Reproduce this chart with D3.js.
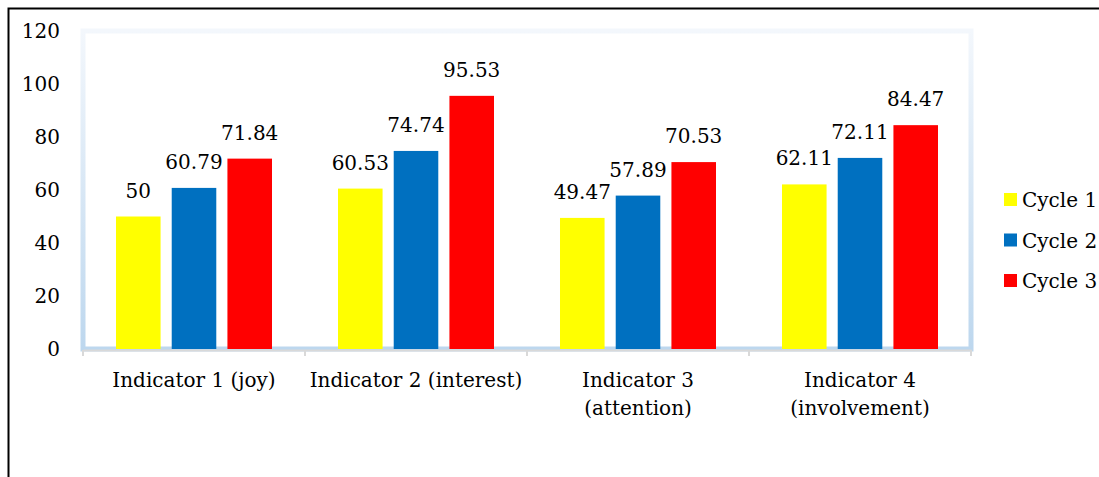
<!DOCTYPE html>
<html>
<head>
<meta charset="utf-8">
<script src="https://cdn.jsdelivr.net/npm/d3@7"></script>
<style>
  body { margin: 0; background: #fff; }
  text { font-family: "DejaVu Serif", serif; fill: #000; }
</style>
</head>
<body>
<script>
const categories = [
  ["Indicator 1 (joy)"],
  ["Indicator 2 (interest)"],
  ["Indicator 3", "(attention)"],
  ["Indicator 4", "(involvement)"],
];
const seriesNames = ["Cycle 1", "Cycle 2", "Cycle 3"];
const cycle1 = [50, 60.53, 49.47, 62.11];
const cycle2 = [60.79, 74.74, 57.89, 72.11];
const cycle3 = [71.84, 95.53, 70.53, 84.47];
const yTicks = [0, 20, 40, 60, 80, 100, 120];
const colors = ["#ffff00", "#0070c0", "#ff0000"];

const width = 1099;
const height = 477;
const fontSize = 20;

const svg = d3
  .select("body")
  .append("svg")
  .attr("width", width)
  .attr("height", height);

// outer frame
svg
  .append("rect")
  .attr("x", 8.5)
  .attr("y", 8.5)
  .attr("width", 1200)
  .attr("height", 600)
  .attr("fill", "none")
  .attr("stroke", "#000")
  .attr("stroke-width", 2);

const grad = svg
  .append("defs")
  .append("linearGradient")
  .attr("id", "frame")
  .attr("x1", 0)
  .attr("y1", 0)
  .attr("x2", 0)
  .attr("y2", 1);
grad.append("stop").attr("offset", "0%").attr("stop-color", "#f3f7fc");
grad.append("stop").attr("offset", "100%").attr("stop-color", "#bdd7ee");

const x0 = d3
  .scaleBand()
  .domain(d3.range(categories.length))
  .range([83, 971]);
const x1 = d3
  .scaleBand()
  .domain(d3.range(seriesNames.length))
  .range([33, 189])
  .paddingInner(0.2);
const y = d3.scaleLinear().domain([0, 120]).range([349, 31]);

// plot area border
svg
  .append("rect")
  .attr("x", x0.range()[0])
  .attr("y", y(120))
  .attr("width", x0.range()[1] - x0.range()[0])
  .attr("height", y(0) - y(120))
  .attr("fill", "none")
  .attr("stroke", "url(#frame)")
  .attr("stroke-width", 5);

// y axis labels
svg
  .append("g")
  .selectAll("text")
  .data(yTicks)
  .enter()
  .append("text")
  .attr("x", 60)
  .attr("y", (d) => y(d))
  .attr("dy", "0.36em")
  .attr("text-anchor", "end")
  .style("font-size", fontSize + "px")
  .text((d) => d);

// x axis line + category separators
const xAxis = d3.axisBottom(x0).tickSize(0).tickFormat("");
const xg = svg
  .append("g")
  .attr("transform", `translate(0, ${y(0) + 1})`)
  .call(xAxis);
xg.select(".domain").attr("stroke", "#d9d9d9").attr("stroke-width", 2);
xg.selectAll(".tick").remove();
xg.selectAll(".sep")
  .data(d3.range(categories.length + 1))
  .enter()
  .append("line")
  .attr("x1", (d) => x0.range()[0] + d * x0.step())
  .attr("x2", (d) => x0.range()[0] + d * x0.step())
  .attr("y1", 0)
  .attr("y2", 6)
  .attr("stroke", "#d9d9d9")
  .attr("stroke-width", 2);

const series = [cycle1, cycle2, cycle3];
const rows = [];
series.forEach((vals, s) =>
  vals.forEach((v, c) => rows.push({ s, c, v }))
);

svg
  .append("g")
  .selectAll("rect")
  .data(rows)
  .enter()
  .append("rect")
  .attr("x", (d) => x0(d.c) + x1(d.s))
  .attr("y", (d) => y(d.v))
  .attr("width", x1.bandwidth())
  .attr("height", (d) => y(0) - y(d.v))
  .attr("fill", (d) => colors[d.s]);

svg
  .append("g")
  .selectAll("text")
  .data(rows)
  .enter()
  .append("text")
  .attr("x", (d) => x0(d.c) + x1(d.s) + x1.bandwidth() / 2)
  .attr("y", (d) => y(d.v) - 19)
  .attr("text-anchor", "middle")
  .style("font-size", fontSize + "px")
  .text((d) => d.v);

// category labels
const cat = svg
  .append("g")
  .selectAll("text")
  .data(categories)
  .enter()
  .append("text")
  .attr("x", (d, i) => x0(i) + x0.bandwidth() / 2)
  .attr("y", 387)
  .attr("text-anchor", "middle")
  .style("font-size", fontSize + "px");
cat
  .selectAll("tspan")
  .data((d) => d)
  .enter()
  .append("tspan")
  .attr("x", function () {
    return this.parentNode.getAttribute("x");
  })
  .attr("dy", (d, i) => (i === 0 ? 0 : 28))
  .text((d) => d);

// legend
const legend = svg.append("g").attr("transform", "translate(1004, 193)");
const item = legend
  .selectAll("g")
  .data(seriesNames)
  .enter()
  .append("g")
  .attr("transform", (d, i) => `translate(0, ${i * 40.5})`);
item
  .append("rect")
  .attr("width", 13)
  .attr("height", 13)
  .attr("fill", (d, i) => colors[i]);
item
  .append("text")
  .attr("x", 18)
  .attr("y", 7)
  .attr("dy", "0.36em")
  .style("font-size", fontSize + "px")
  .text((d) => d);
</script>
</body>
</html>
